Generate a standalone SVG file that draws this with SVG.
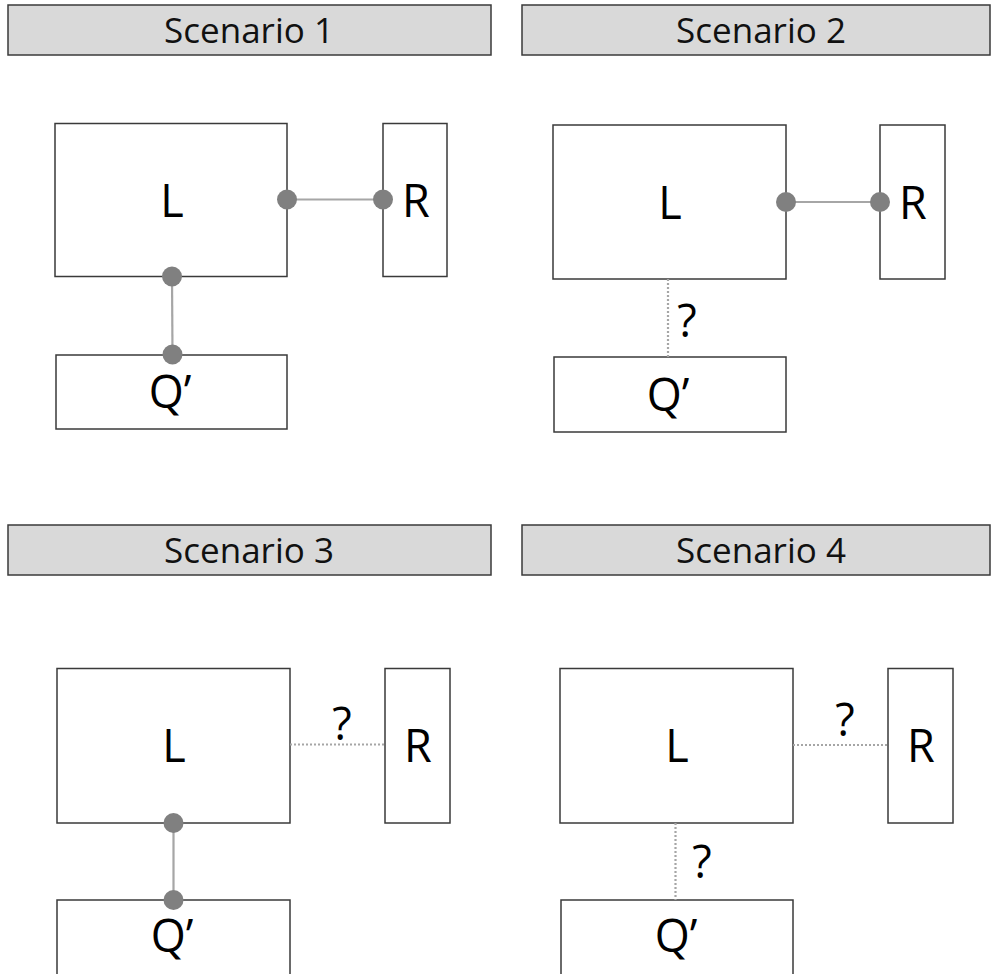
<svg xmlns="http://www.w3.org/2000/svg" width="992" height="974" viewBox="0 0 992 974">
<style>
.hdr{fill:#d9d9d9;stroke:#3a3a3a;stroke-width:1.5}
.hdrt{font-family:"Open Sans","Noto Sans",sans-serif;font-size:35px;fill:#111;text-anchor:middle}
.box{fill:#fff;stroke:#3a3a3a;stroke-width:1.5}
.lbl{font-family:"Open Sans","Noto Sans",sans-serif;font-size:45px;fill:#000;text-anchor:middle}
.q{font-family:"Open Sans","Noto Sans",sans-serif;font-size:45px;fill:#000;text-anchor:middle}
.solid{stroke:#a6a6a6;stroke-width:2.2;fill:none}
.dot{stroke:#a6a6a6;stroke-width:2.2;stroke-dasharray:2 2;fill:none}
.pt{fill:#808080}
</style>
<rect width="992" height="974" fill="#fff"/>
<g id="headers">
<g id="h1"><rect class="hdr" x="8" y="5" width="483" height="50"/><text class="hdrt" x="249" y="43">Scenario 1</text></g>
<g id="h2"><rect class="hdr" x="522" y="5" width="468" height="50"/><text class="hdrt" x="761" y="43">Scenario 2</text></g>
<g id="h3"><rect class="hdr" x="8" y="525" width="483" height="50"/><text class="hdrt" x="249" y="563">Scenario 3</text></g>
<g id="h4"><rect class="hdr" x="522" y="525" width="468" height="50"/><text class="hdrt" x="761" y="563">Scenario 4</text></g>
</g>
<g id="s1L"><rect class="box" x="55" y="123.5" width="232" height="153"/><text class="lbl" x="172" y="217">L</text></g>
<g id="s1R"><rect class="box" x="383" y="123.5" width="64" height="153"/><text class="lbl" x="416" y="217">R</text></g>
<g id="s1Q"><rect class="box" x="56" y="355" width="231" height="74"/><text class="q" x="170" y="408">Q’</text></g>
<g id="s2L"><rect class="box" x="553" y="125" width="233" height="154"/><text class="lbl" x="670" y="219">L</text></g>
<g id="s2R"><rect class="box" x="880" y="125" width="65" height="154"/><text class="lbl" x="913" y="219">R</text></g>
<g id="s2Q"><rect class="box" x="554" y="357" width="232" height="75"/><text class="q" x="668" y="411">Q’</text></g>
<g id="s3L"><rect class="box" x="57" y="668.5" width="233" height="154.5"/><text class="lbl" x="174" y="762">L</text></g>
<g id="s3R"><rect class="box" x="385" y="668.5" width="65" height="154.5"/><text class="lbl" x="418" y="762">R</text></g>
<g id="s3Q"><rect class="box" x="57" y="900" width="233" height="90"/><text class="q" x="172" y="952">Q’</text></g>
<g id="s4L"><rect class="box" x="560" y="668.5" width="233" height="154.5"/><text class="lbl" x="677" y="762">L</text></g>
<g id="s4R"><rect class="box" x="888" y="668.5" width="65" height="154.5"/><text class="lbl" x="921" y="762">R</text></g>
<g id="s4Q"><rect class="box" x="561" y="900" width="232" height="90"/><text class="q" x="676" y="952">Q’</text></g>
<g id="connectors">
<line class="solid" x1="287" y1="199.5" x2="383" y2="199.5"/>
<circle class="pt" cx="287" cy="199.5" r="10"/><circle class="pt" cx="383" cy="199.5" r="10"/>
<line class="solid" x1="172" y1="276.5" x2="172.5" y2="354.5"/>
<circle class="pt" cx="172" cy="276.5" r="10"/><circle class="pt" cx="172.5" cy="354.5" r="10"/>
<line class="solid" x1="786" y1="202" x2="880" y2="202"/>
<circle class="pt" cx="786" cy="202" r="10"/><circle class="pt" cx="880" cy="202" r="10"/>
<line class="dot" x1="668" y1="279" x2="668" y2="357"/>
<text class="lbl" x="687" y="337">?</text>
<line class="solid" x1="173.5" y1="823" x2="173.5" y2="900"/>
<circle class="pt" cx="173.5" cy="823" r="10"/><circle class="pt" cx="173.5" cy="900" r="10"/>
<line class="dot" x1="290" y1="744.5" x2="385" y2="744.5"/>
<text class="lbl" x="342" y="740">?</text>
<line class="dot" x1="675.5" y1="823" x2="675.5" y2="900"/>
<text class="lbl" x="702" y="878">?</text>
<line class="dot" x1="793" y1="745" x2="888" y2="745"/>
<text class="lbl" x="845" y="736">?</text>
</g>
</svg>
